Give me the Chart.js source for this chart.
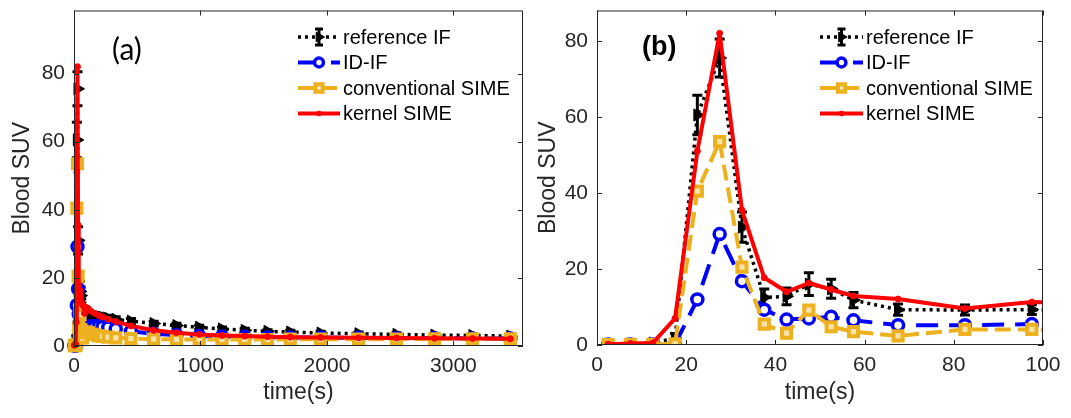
<!DOCTYPE html>
<html>
<head>
<meta charset="utf-8">
<script src="https://cdn.jsdelivr.net/npm/chart.js@4.4.1/dist/chart.umd.min.js"></script>
<style>
  html, body { margin: 0; padding: 0; background: #fff; }
  #wrap { position: relative; width: 1071px; height: 418px; }
  canvas { position: absolute; top: 0; }
  #chartA { left: 0; }
  #chartB { left: 535px; }
</style>
</head>
<body>
<div id="wrap">
  <canvas id="chartA" width="535" height="418"></canvas>
  <canvas id="chartB" width="536" height="418"></canvas>
</div>
<script>
// frame mid-times (s)
const frameTimes = [2.5, 7.5, 12.5, 17.5, 22.5, 27.5, 32.5, 37.5, 42.5, 47.5, 52.5, 57.5,
    67.5, 82.5, 97.5, 112.5, 135, 165, 195, 225, 270, 330,
    450, 630, 810, 990, 1170, 1350, 1530, 1710,
    1950, 2250, 2550, 2850, 3150, 3450];

// blood SUV per frame
const refIF = [0.2, 0.3, 0.5, 1.8, 60.5, 75.5, 31.0, 12.5, 12.8, 16.0, 14.8, 11.8,
    9.3, 9.2, 9.3, 9.2, 9.0, 8.8, 8.6, 8.4, 8.1, 7.8,
    7.3, 6.6, 6.0, 5.5, 5.0, 4.6, 4.3, 4.1,
    3.8, 3.6, 3.4, 3.2, 3.1, 2.9];
const refIFErr = [0.5, 0.5, 0.5, 1.2, 5.2, 5.0, 4.0, 2.2, 2.2, 3.0, 2.5, 2.0,
    1.5, 1.3, 1.3, 1.2, 1.1, 1.0, 1.0, 0.9, 0.9, 0.8,
    0.8, 0.7, 0.7, 0.6, 0.6, 0.6, 0.5, 0.5,
    0.5, 0.5, 0.5, 0.4, 0.4, 0.4];
const idIF = [0.1, 0.1, 0.1, 0.2, 12.0, 29.2, 16.8, 9.3, 6.7, 7.0, 7.4, 6.5,
    5.2, 5.2, 5.5, 5.3, 5.8, 5.9, 5.8, 5.6, 5.4, 5.0,
    4.3, 3.6, 3.2, 2.9, 2.8, 2.7, 2.6, 2.5,
    2.5, 2.4, 2.3, 2.3, 2.2, 2.2];
const convSIME = [0.1, 0.1, 0.2, 0.3, 40.5, 53.5, 20.5, 5.5, 3.1, 9.2, 4.8, 3.5,
    2.4, 4.1, 4.1, 3.9, 3.5, 3.3, 3.0, 2.8, 2.6, 2.4,
    2.2, 2.0, 1.9, 1.9, 1.9, 1.9, 1.9, 2.0,
    2.0, 2.0, 2.0, 2.1, 2.1, 2.1];
const kernelSIME = [0.2, 0.4, 0.5, 7.0, 51.0, 82.0, 35.5, 17.7, 14.0, 16.3, 14.6, 12.9,
    12.1, 9.6, 11.3, 11.0, 10.2, 9.6, 9.0, 8.5, 7.9, 7.2,
    5.9, 4.6, 3.9, 3.4, 3.1, 2.9, 2.75, 2.6,
    2.5, 2.4, 2.35, 2.25, 2.2, 2.1];

const seriesNames = ['reference IF', 'ID-IF', 'conventional SIME', 'kernel SIME'];

// tick values
const ticksAx = [0, 1000, 2000, 3000];
const ticksAy = [0, 20, 40, 60, 80];
const ticksBx = [0, 20, 40, 60, 80, 100];
const ticksBy = [0, 20, 40, 60, 80];

const AXIS_COLOR = '#262626';
const FONT = '"Liberation Sans", Arial, sans-serif';

function toPoints(values) {
    return frameTimes.map((t, i) => ({ x: t, y: values[i] }));
}

function makeDatasets(clip) {
    return [
        {
            label: seriesNames[0],
            data: toPoints(refIF),
            errorBars: refIFErr,
            borderColor: '#000000',
            backgroundColor: '#000000',
            borderWidth: 3.5,
            borderDash: [3, 4],
            borderJoinStyle: 'round',
            pointStyle: 'triangle',
            rotation: 90,
            pointRadius: 7,
            pointBorderWidth: 1,
            pointBackgroundColor: '#000000',
            order: 3,
            clip: clip
        },
        {
            label: seriesNames[1],
            data: toPoints(idIF),
            borderColor: '#0000FF',
            backgroundColor: '#0000FF',
            borderWidth: 4,
            borderDash: [22, 11],
            borderJoinStyle: 'round',
            pointStyle: 'circle',
            pointRadius: 5.5,
            pointBorderWidth: 3.5,
            pointBackgroundColor: '#ffffff',
            order: 2,
            clip: clip
        },
        {
            label: seriesNames[2],
            data: toPoints(convSIME),
            borderColor: '#EDB120',
            backgroundColor: '#EDB120',
            borderWidth: 4,
            borderDash: [16, 7],
            borderJoinStyle: 'round',
            pointStyle: 'rect',
            pointRadius: 6.5,
            pointBorderWidth: 4,
            pointBackgroundColor: '#F8E3AE',
            order: 1,
            clip: clip
        },
        {
            label: seriesNames[3],
            data: toPoints(kernelSIME),
            borderColor: '#FF0000',
            backgroundColor: '#FF0000',
            borderWidth: 4,
            borderJoinStyle: 'round',
            pointStyle: 'circle',
            pointRadius: 3,
            pointBorderWidth: 1,
            pointBackgroundColor: '#FF0000',
            order: 0,
            clip: clip
        }
    ];
}

// box, inward ticks on all sides, error bars, panel tag and legend
const matlabAxes = {
    id: 'matlabAxes',
    afterDatasetDraw(chart, args, opts) {
        const ds = chart.data.datasets[args.index];
        if (!ds.errorBars) return;
        const { ctx, chartArea: a, scales: { x, y } } = chart;
        ctx.save();
        if (opts.clipErrors) {
            ctx.beginPath();
            ctx.rect(a.left, a.top, a.right - a.left, a.bottom - a.top);
            ctx.clip();
        }
        ctx.strokeStyle = ds.borderColor;
        ctx.lineWidth = 3;
        ctx.setLineDash([]);
        ds.data.forEach((p, i) => {
            const e = ds.errorBars[i];
            const px = x.getPixelForValue(p.x);
            const top = y.getPixelForValue(p.y + e);
            const bot = y.getPixelForValue(p.y - e);
            ctx.beginPath();
            ctx.moveTo(px, top); ctx.lineTo(px, bot);
            ctx.moveTo(px - 5, top); ctx.lineTo(px + 5, top);
            ctx.moveTo(px - 5, bot); ctx.lineTo(px + 5, bot);
            ctx.stroke();
        });
        ctx.restore();
    },
    afterDraw(chart, args, opts) {
        const { ctx, chartArea: a, scales: { x, y } } = chart;
        ctx.save();
        ctx.strokeStyle = AXIS_COLOR;
        ctx.lineWidth = 1;
        ctx.setLineDash([]);
        ctx.strokeRect(a.left + 0.5, a.top + 0.5, a.right - a.left - 1, a.bottom - a.top - 1);
        ctx.beginPath();
        x.ticks.forEach(t => {
            const px = Math.round(x.getPixelForValue(t.value)) + 0.5;
            ctx.moveTo(px, a.bottom); ctx.lineTo(px, a.bottom - 5);
            ctx.moveTo(px, a.top); ctx.lineTo(px, a.top + 5);
        });
        y.ticks.forEach(t => {
            const py = Math.round(y.getPixelForValue(t.value)) + 0.5;
            ctx.moveTo(a.left, py); ctx.lineTo(a.left + 5, py);
            ctx.moveTo(a.right, py); ctx.lineTo(a.right - 5, py);
        });
        ctx.stroke();

        // panel tag
        ctx.fillStyle = '#000';
        ctx.font = opts.tagFont;
        ctx.textAlign = 'left';
        ctx.textBaseline = 'middle';
        ctx.fillText(opts.tag, opts.tagX, opts.tagY);

        // legend
        const lg = opts.legend;
        chart.data.datasets.forEach((ds, i) => {
            const ry = lg.y + i * lg.step;
            const mid = (lg.x0 + lg.x1) / 2;
            ctx.save();
            ctx.strokeStyle = ds.borderColor;
            ctx.lineWidth = ds.borderWidth;
            ctx.setLineDash(ds.borderDash || []);
            ctx.beginPath();
            ctx.moveTo(lg.x0, ry); ctx.lineTo(lg.x1, ry);
            ctx.stroke();
            ctx.setLineDash([]);
            if (ds.errorBars) {
                ctx.lineWidth = 3;
                ctx.beginPath();
                ctx.moveTo(mid, ry - 8); ctx.lineTo(mid, ry + 8);
                ctx.moveTo(mid - 4, ry - 8); ctx.lineTo(mid + 4, ry - 8);
                ctx.moveTo(mid - 4, ry + 8); ctx.lineTo(mid + 4, ry + 8);
                ctx.stroke();
            }
            ctx.fillStyle = ds.pointBackgroundColor;
            ctx.strokeStyle = ds.borderColor;
            ctx.lineWidth = ds.pointBorderWidth;
            Chart.helpers.drawPoint(ctx, {
                pointStyle: ds.pointStyle,
                rotation: ds.rotation || 0,
                radius: ds.pointRadius * 0.8,
                borderWidth: ds.pointBorderWidth
            }, mid, ry);
            ctx.restore();
            ctx.fillStyle = '#000';
            ctx.font = lg.font;
            ctx.textAlign = 'left';
            ctx.textBaseline = 'middle';
            ctx.fillText(ds.label, lg.x1 + 3, ry + 1);
        });
        ctx.restore();
    }
};

function buildChart(id, cfg) {
    return new Chart(document.getElementById(id), {
        type: 'line',
        data: { datasets: makeDatasets(cfg.clip) },
        options: {
            responsive: false,
            animation: false,
            events: [],
            layout: { padding: cfg.padding },
            plugins: {
                legend: { display: false },
                tooltip: { enabled: false },
                matlabAxes: cfg.frame
            },
            scales: {
                x: {
                    type: 'linear',
                    min: cfg.xMin,
                    max: cfg.xMax,
                    grid: { display: false, drawTicks: false },
                    border: { display: false },
                    afterBuildTicks: s => { s.ticks = cfg.xTicks.map(v => ({ value: v })); },
                    ticks: {
                        color: AXIS_COLOR,
                        padding: 8,
                        maxRotation: 0,
                        autoSkip: false,
                        font: { family: FONT, size: 21 },
                        callback: v => String(v)
                    },
                    title: {
                        display: true,
                        text: 'time(s)',
                        color: AXIS_COLOR,
                        padding: { top: 0, bottom: 12 },
                        font: { family: FONT, size: 23 }
                    },
                    afterFit: s => {
                        s.height = cfg.xAxisHeight;
                        s.paddingLeft = 0;
                        s.paddingRight = 0;
                    }
                },
                y: {
                    type: 'linear',
                    min: cfg.yMin,
                    max: cfg.yMax,
                    grid: { display: false, drawTicks: false },
                    border: { display: false },
                    afterBuildTicks: s => { s.ticks = cfg.yTicks.map(v => ({ value: v })); },
                    ticks: {
                        color: AXIS_COLOR,
                        padding: 9,
                        autoSkip: false,
                        font: { family: FONT, size: 21 },
                        callback: v => String(v)
                    },
                    title: {
                        display: true,
                        text: 'Blood SUV',
                        color: AXIS_COLOR,
                        padding: { top: cfg.yTitlePad, bottom: 0 },
                        font: { family: FONT, size: 23 }
                    },
                    afterFit: s => {
                        s.width = cfg.yAxisWidth;
                        s.paddingTop = 0;
                        s.paddingBottom = 0;
                    }
                }
            }
        },
        plugins: [matlabAxes]
    });
}

// (a) whole scan
buildChart('chartA', {
    clip: false,
    xMin: 0, xMax: 3550, yMin: 0, yMax: 98.5,
    xTicks: ticksAx, yTicks: ticksAy,
    padding: { left: 0, right: 12, top: 10, bottom: 0 },
    xAxisHeight: 72, yAxisWidth: 74, yTitlePad: 9,
    frame: {
        clipErrors: false,
        tag: '(a)', tagX: 112, tagY: 50,
        tagFont: '30px Lato, "Open Sans", sans-serif',
        legend: { x0: 298, x1: 340, y: 37, step: 25.5, font: '20px ' + FONT }
    }
});

// (b) first 100 s
buildChart('chartB', {
    clip: undefined,
    xMin: 0, xMax: 100, yMin: 0, yMax: 88,
    xTicks: ticksBx, yTicks: ticksBy,
    padding: { left: 0, right: 28, top: 10, bottom: 0 },
    xAxisHeight: 73, yAxisWidth: 62, yTitlePad: 0,
    frame: {
        clipErrors: true,
        tag: '(b)', tagX: 107, tagY: 48,
        tagFont: 'bold 27px ' + FONT,
        legend: { x0: 285, x1: 328, y: 37, step: 25.5, font: '20px ' + FONT }
    }
});
</script>
</body>
</html>
